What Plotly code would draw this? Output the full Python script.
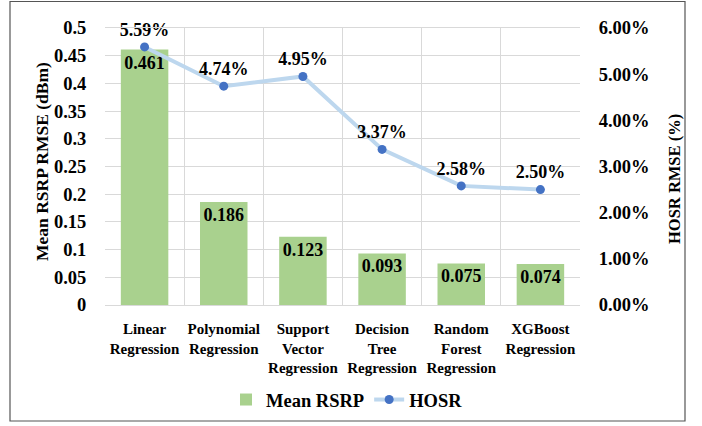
import plotly.graph_objects as go

categories = ["Linear<br>Regression", "Polynomial<br>Regression", "Support<br>Vector<br>Regression",
              "Decision<br>Tree<br>Regression", "Random<br>Forest<br>Regression", "XGBoost<br>Regression"]
mean_rsrp = [0.461, 0.186, 0.123, 0.093, 0.075, 0.074]
hosr = [0.0559, 0.0474, 0.0495, 0.0337, 0.0258, 0.0250]
left_ticks = [0, 0.05, 0.1, 0.15, 0.2, 0.25, 0.3, 0.35, 0.4, 0.45, 0.5]
left_tick_text = ["0", "0.05", "0.1", "0.15", "0.2", "0.25", "0.3", "0.35", "0.4", "0.45", "0.5"]
right_ticks = [0, 0.01, 0.02, 0.03, 0.04, 0.05, 0.06]

FONT = "Liberation Serif, Times New Roman, serif"
GRID = "#D9D9D9"

def f(size):
    return dict(family=FONT, size=size, color="black", weight="bold")

fig = go.Figure()
fig.add_trace(go.Bar(
    x=categories, y=mean_rsrp, name="Mean RSRP",
    marker=dict(color="#A9D18E", line=dict(width=0)),
    text=[f"{v:.3f}" for v in mean_rsrp], textposition="inside", insidetextanchor="end",
    constraintext="none",
    textfont=f(18),
))
fig.add_trace(go.Scatter(
    x=categories, y=hosr, name="HOSR", yaxis="y2", mode="lines+markers+text",
    line=dict(color="#BDD7EE", width=4),
    marker=dict(color="#4472C4", size=9),
    text=[f"{v*100:.2f}%" for v in hosr], textposition="top center",
    textfont=f(18), cliponaxis=False,
))

L, R, T, B = 105, 122, 28, 121
fig.update_layout(
    width=702, height=426,
    margin=dict(l=L, r=R, t=T, b=B, autoexpand=False),
    paper_bgcolor="white", plot_bgcolor="white",
    bargap=0.4,
    font=f(16),
    xaxis=dict(
        type="category", tickson="boundaries", showgrid=True, gridcolor=GRID, gridwidth=1,
        showline=True, linecolor=GRID, mirror=True, automargin=False, tickangle=0,
        ticks="", ticklabelstandoff=10,
        tickfont=f(15),
    ),
    yaxis=dict(
        range=[0, 0.5], tickvals=left_ticks, ticktext=left_tick_text,
        showgrid=True, gridcolor=GRID, gridwidth=1, zeroline=False, automargin=False,
        ticks="outside", ticklen=14, tickcolor="rgba(0,0,0,0)",
        tickfont=f(18.5),
    ),
    yaxis2=dict(
        range=[0, 0.06], tickvals=right_ticks, tickformat=".2%",
        overlaying="y", side="right", showgrid=False, zeroline=False, automargin=False,
        ticks="outside", ticklen=14, tickcolor="rgba(0,0,0,0)",
        tickfont=f(18.5),
    ),
    legend=dict(
        orientation="h", x=(347 - L) / (702 - L - R), xanchor="center",
        yref="container", y=(426 - 400) / 426, yanchor="middle",
        font=f(18.5),
        itemwidth=30, tracegroupgap=0,
    ),
    showlegend=True,
)

pw, ph = 702 - L - R, 426 - T - B
def px(x):
    return (x - L) / pw
def py(y):
    return (426 - B - y) / ph

fig.add_annotation(x=px(42), y=py(161), xref="paper", yref="paper", text="Mean RSRP RMSE (dBm)",
                   xanchor="center", yanchor="middle",
                   textangle=-90, showarrow=False, font=f(17.5))
fig.add_annotation(x=px(674), y=py(179), xref="paper", yref="paper", text="HOSR RMSE (%)",
                   xanchor="center", yanchor="middle",
                   textangle=-90, showarrow=False, font=f(16.5))
fig.add_shape(type="rect", xref="paper", yref="paper",
              x0=px(10), x1=px(685), y0=py(421), y1=py(1.5),
              line=dict(color="#555555", width=1.2), fillcolor="rgba(0,0,0,0)", layer="below")

fig.write_html("out.html", config={"displayModeBar": False},
               post_script="document.body.style.margin='0';")
